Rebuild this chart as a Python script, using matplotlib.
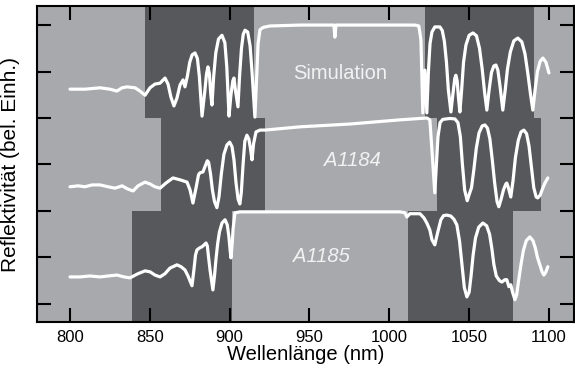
import matplotlib
matplotlib.use('agg')
import matplotlib.pyplot as plt

plt.rcParams['font.family'] = ['Liberation Sans', 'DejaVu Sans']

# Simulation (upper trace): (wavelength nm, reflectivity a.u.)
sim = [(800.0, 4.62), (809.4, 4.62), (818.8, 4.65), (825.0, 4.62), (829.4, 4.58),
       (832.6, 4.65), (835.7, 4.67), (840.7, 4.65), (843.8, 4.58), (847.0, 4.49),
       (850.1, 4.65), (853.2, 4.73), (856.4, 4.75), (859.5, 4.86), (861.4, 4.73),
       (863.2, 4.45), (865.1, 4.26), (867.0, 4.43), (868.9, 4.71), (870.8, 4.82),
       (872.0, 4.67), (873.5, 4.90), (875.0, 5.20), (876.5, 5.36), (878.3, 5.40),
       (879.8, 5.28), (881.0, 4.90), (882.7, 4.04), (884.5, 4.60), (885.5, 4.95),
       (886.4, 5.10), (887.3, 4.95), (888.2, 4.50), (888.9, 4.28), (890.0, 4.90),
       (891.3, 5.40), (893.0, 5.70), (895.2, 5.78), (897.0, 5.62), (898.2, 5.10),
       (899.6, 4.04), (900.8, 4.50), (902.0, 4.80), (902.7, 4.86), (903.6, 4.60),
       (905.2, 4.24), (906.2, 4.90), (907.4, 5.50), (908.5, 5.80), (909.6, 5.89),
       (911.3, 5.85), (912.8, 5.55), (914.0, 5.00), (915.8, 4.02), (916.8, 4.80),
       (917.8, 5.60), (919.0, 5.90), (921.0, 5.95), (925.2, 5.98), (944.0, 6.00),
       (962.8, 6.00), (965.3, 6.00), (965.9, 5.74), (966.6, 6.00), (994.1, 6.00),
       (1016.0, 6.00), (1018.5, 5.98), (1019.8, 5.68), (1021.0, 4.11), (1022.3, 5.03),
       (1023.5, 4.11), (1024.5, 5.00), (1025.5, 5.60), (1026.7, 5.85), (1028.5, 5.96),
       (1031.7, 5.96), (1033.2, 5.88), (1034.5, 5.65), (1035.8, 5.20), (1037.0, 4.60),
       (1038.6, 4.13), (1039.8, 4.50), (1041.0, 4.85), (1041.7, 4.92), (1042.5, 4.80),
       (1043.3, 4.45), (1044.2, 4.13), (1045.3, 4.60), (1046.5, 5.20), (1048.0, 5.57),
       (1050.0, 5.78), (1052.4, 5.83), (1054.6, 5.77), (1056.5, 5.50), (1058.2, 5.05),
       (1059.7, 4.55), (1061.1, 4.17), (1062.5, 4.60), (1064.0, 4.98), (1065.5, 5.12),
       (1066.8, 5.14), (1068.0, 5.03), (1069.3, 4.70), (1071.1, 4.17), (1072.6, 4.60),
       (1074.0, 5.05), (1075.8, 5.42), (1078.0, 5.66), (1080.5, 5.72), (1083.0, 5.64),
       (1085.0, 5.38), (1086.8, 4.95), (1088.5, 4.50), (1089.9, 4.17), (1091.3, 4.60),
       (1092.8, 5.00), (1094.5, 5.22), (1096.2, 5.29), (1098.1, 5.20), (1100.0, 4.97)]

# Sample A1184 (middle trace)
a1184 = [(800.0, 2.52), (805.0, 2.54), (809.4, 2.52), (813.8, 2.56), (818.8, 2.56),
         (823.8, 2.52), (828.2, 2.49), (832.6, 2.54), (836.3, 2.47), (839.5, 2.43),
         (842.6, 2.54), (847.0, 2.62), (850.1, 2.58), (853.2, 2.52), (856.4, 2.49),
         (860.1, 2.60), (864.5, 2.71), (868.9, 2.67), (873.3, 2.62), (875.2, 2.45),
         (877.0, 2.17), (878.9, 2.49), (880.5, 2.78), (881.4, 2.82), (883.3, 2.84),
         (884.5, 2.95), (886.0, 3.08), (886.8, 3.05), (888.0, 2.80), (889.2, 2.45),
         (890.5, 2.20), (892.0, 2.07), (893.3, 2.30), (894.8, 2.80), (896.4, 3.22),
         (898.3, 3.42), (900.0, 3.48), (901.5, 3.38), (902.7, 3.10), (904.0, 2.60),
         (905.3, 2.25), (906.4, 2.15), (907.3, 2.40), (908.4, 3.00), (909.5, 3.50),
         (910.8, 3.63), (912.0, 3.55), (913.0, 3.35), (914.0, 3.10), (915.0, 3.45),
         (916.5, 3.70), (919.0, 3.74), (922.1, 3.74), (944.0, 3.81), (975.3, 3.87),
         (1006.6, 3.96), (1023.5, 4.00), (1025.4, 3.96), (1026.7, 3.31), (1028.5, 2.39),
         (1029.5, 3.00), (1030.5, 3.60), (1031.8, 3.90), (1033.5, 3.97), (1038.0, 3.99),
         (1041.1, 3.98), (1043.0, 3.90), (1044.5, 3.60), (1045.8, 3.00), (1047.2, 2.45),
         (1048.8, 2.22), (1050.0, 2.35), (1051.5, 2.50), (1053.0, 2.90), (1054.5, 3.35),
         (1056.2, 3.68), (1058.2, 3.83), (1059.9, 3.85), (1061.5, 3.78), (1063.0, 3.55),
         (1064.5, 3.10), (1066.0, 2.60), (1067.5, 2.20), (1068.6, 2.09), (1070.0, 2.25),
         (1071.5, 2.45), (1073.0, 2.58), (1073.6, 2.60), (1074.6, 2.50), (1076.1, 2.30),
         (1077.5, 2.65), (1079.0, 3.15), (1080.8, 3.52), (1082.5, 3.70), (1084.3, 3.74),
         (1086.0, 3.66), (1087.5, 3.40), (1089.0, 2.95), (1090.5, 2.50), (1092.0, 2.30),
         (1093.0, 2.28), (1094.5, 2.34), (1096.0, 2.48), (1097.5, 2.60), (1099.3, 2.71)]

# Sample A1185 (lower trace)
a1185 = [(800.0, 0.58), (806.3, 0.58), (812.5, 0.60), (818.8, 0.58), (823.8, 0.60),
         (829.4, 0.62), (833.8, 0.58), (837.6, 0.56), (842.6, 0.65), (847.0, 0.71),
         (850.1, 0.69), (853.2, 0.62), (856.4, 0.58), (859.5, 0.65), (862.6, 0.77),
         (867.0, 0.84), (869.5, 0.80), (872.0, 0.73), (873.9, 0.60), (876.4, 0.39),
         (877.6, 0.73), (878.6, 1.05), (879.5, 1.16), (881.0, 1.20), (882.7, 1.23),
         (884.0, 1.27), (885.2, 1.31), (886.0, 1.25), (886.8, 1.00), (887.7, 0.73),
         (889.5, 0.30), (890.5, 0.60), (891.4, 0.95), (892.5, 1.30), (893.6, 1.55),
         (895.2, 1.74), (897.1, 1.81), (898.5, 1.70), (899.5, 1.45), (900.3, 1.15),
         (900.8, 0.99), (901.6, 1.30), (902.1, 1.60), (903.3, 1.96), (906.4, 1.98),
         (944.0, 1.98), (975.3, 1.98), (1006.6, 1.98), (1009.8, 1.96), (1011.0, 1.87),
         (1012.9, 1.94), (1019.2, 1.94), (1021.7, 1.85), (1023.5, 1.74), (1025.4, 1.59),
         (1026.7, 1.38), (1028.5, 1.27), (1030.4, 1.55), (1032.3, 1.81), (1034.0, 1.90),
         (1036.1, 1.91), (1038.5, 1.89), (1040.5, 1.82), (1042.3, 1.70), (1044.0, 1.35),
         (1045.5, 0.85), (1047.0, 0.35), (1048.6, 0.15), (1050.0, 0.25), (1051.2, 0.60),
         (1052.5, 1.05), (1054.0, 1.42), (1056.0, 1.65), (1058.6, 1.74), (1061.0, 1.68),
         (1062.8, 1.50), (1064.2, 1.20), (1065.5, 0.85), (1067.0, 0.60), (1069.0, 0.50),
         (1070.5, 0.47), (1072.4, 0.52), (1073.6, 0.52), (1074.9, 0.37), (1076.1, 0.41),
         (1077.2, 0.25), (1078.7, 0.09), (1079.8, 0.20), (1081.0, 0.50), (1082.5, 0.85),
         (1084.0, 1.15), (1085.8, 1.36), (1088.0, 1.44), (1090.0, 1.36), (1091.5, 1.20),
         (1092.8, 1.00), (1094.3, 0.84), (1095.8, 0.68), (1096.8, 0.62), (1098.0, 0.68),
         (1099.3, 0.80)]

# dark stop-band regions, one list per trace: (start, end) in nm
dark_sim = [(847.0, 915.2), (1022.3, 1090.5)]
dark_a1184 = [(857.0, 922.0), (1029.8, 1095.0)]
dark_a1185 = [(839.0, 901.6), (1011.7, 1077.4)]

labels = ['Simulation', 'A1184', 'A1185']
label_pos = [(969.1, 4.95), (976.6, 3.08), (957.2, 1.03)]

def main():
	fig = plt.figure(figsize=(5.75, 3.69), dpi=100)
	ax = fig.add_axes([0.0643, 0.1274, 0.9337, 0.8563])
	ax.set_xlim(779.3, 1115.6)
	ax.set_ylim(-0.39, 6.41)
	ax.set_facecolor('#a8a9ad')

	dark = '#57585b'
	rows = [(4.0, 6.41, dark_sim), (2.0, 4.0, dark_a1184), (-0.39, 2.0, dark_a1185)]
	for y0, y1, spans in rows:
		for x0, x1 in spans:
			ax.fill_between([x0, x1], y0, y1, color=dark, lw=0, zorder=1)

	for trace in [sim, a1184, a1185]:
		wl, r = zip(*trace)
		ax.plot(wl, r, color='white', lw=2.3, solid_joinstyle='round',
			solid_capstyle='round', zorder=3)

	for txt, (x, y) in zip(labels, label_pos):
		style = 'normal' if txt == 'Simulation' else 'italic'
		ax.text(x, y, txt, color='#f2f2f2', fontsize=14.5, style=style,
			ha='center', va='center', zorder=4)

	ax.set_xticks([800, 850, 900, 950, 1000, 1050, 1100])
	ax.set_yticks([0, 1, 2, 3, 4, 5, 6])
	ax.set_yticklabels([])
	ax.tick_params(direction='in', length=10, width=1.5, top=True, right=True,
		labelsize=12, pad=6)
	for s in ax.spines.values():
		s.set_linewidth(1.5)
	ax.set_xlabel('Wellenlänge (nm)', fontsize=14.5, labelpad=0)
	ax.set_ylabel('Reflektivität (bel. Einh.)', fontsize=15, labelpad=6)

	plt.savefig('out.png', dpi=100)

main()
